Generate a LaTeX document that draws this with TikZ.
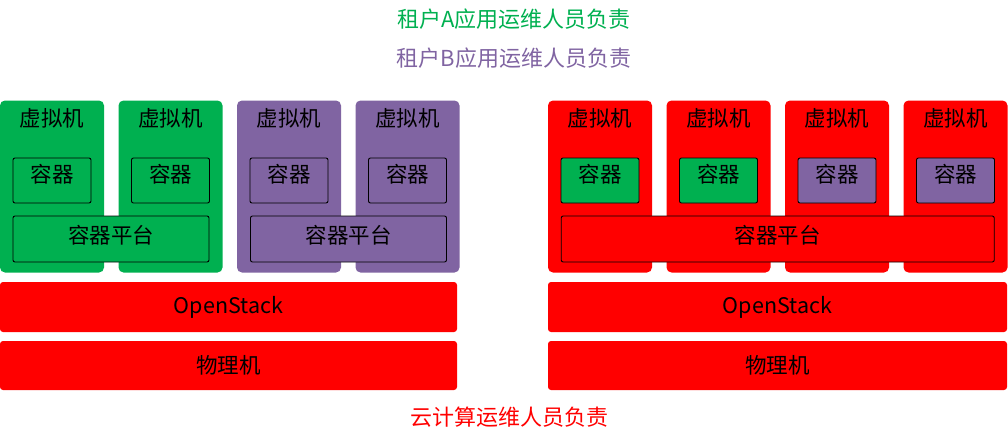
\documentclass[tikz,border=0pt]{standalone}
\usepackage{fontspec}
\setmainfont{Noto Sans CJK SC}
\usepackage{tikz}
\usetikzlibrary{positioning, calc}
\usepackage{xcolor}

\definecolor{tgreen}{HTML}{00B050}
\definecolor{tpurple}{HTML}{8064A2}
\definecolor{tred}{HTML}{FF0000}

\newcommand{\up}[2][14pt]{\raisebox{#1}{#2}}

\begin{document}
\begin{tikzpicture}[
        x=1pt, y=-1pt,
        font=\fontsize{21.5pt}{25pt}\selectfont,
        vm/.style={rectangle, draw=none, minimum width=104pt, minimum height=172pt, rounded corners=5pt, inner sep=0pt},
        ctr/.style={rectangle, draw=black, line width=0.9pt, minimum width=78pt, minimum height=45pt, rounded corners=2pt, inner sep=0pt},
        plat/.style={rectangle, draw=black, line width=0.9pt, minimum height=46pt, rounded corners=2pt, inner sep=0pt},
        layer/.style={rectangle, fill=tred, minimum height=49pt, rounded corners=3pt, inner sep=0pt},
        lbl/.style={inner sep=0pt}
    ]
        \useasboundingbox (0,0) rectangle (1008,447);

        % Verantwortung oben
        \node[lbl, text=tgreen, font=\fontsize{22pt}{26pt}\selectfont] (titleA) at (514, 19) {租户A应用运维人员负责};
        \node[lbl, text=tpurple, font=\fontsize{22pt}{26pt}\selectfont] (titleB) at (514, 58) {租户B应用运维人员负责};

        % Links: Virtuelle Maschinen
        \node[vm, fill=tgreen] (vmA) at (52, 186.5) {};
        \node[vm, fill=tgreen] (vmB) at (170.5, 186.5) {};
        \node[vm, fill=tpurple] (vmC) at (289, 186.5) {};
        \node[vm, fill=tpurple] (vmD) at (407.5, 186.5) {};

        \node[lbl] (vmAl) at (52, 118) {虚拟机};
        \node[lbl] (vmBl) at (170.5, 118) {虚拟机};
        \node[lbl] (vmCl) at (289, 118) {虚拟机};
        \node[lbl] (vmDl) at (407.5, 118) {虚拟机};

        % Links: Container
        \node[ctr, fill=tgreen] (ctrA) at (52, 180.5) {\up{容器}};
        \node[ctr, fill=tgreen] (ctrB) at (170.5, 180.5) {\up{容器}};
        \node[ctr, fill=tpurple] (ctrC) at (289, 180.5) {\up{容器}};
        \node[ctr, fill=tpurple] (ctrD) at (407.5, 180.5) {\up{容器}};

        \node[plat, fill=tgreen, minimum width=196pt] (platA) at (111, 239) {\up[10pt]{容器平台}};
        \node[plat, fill=tpurple, minimum width=196pt] (platB) at (348.5, 239) {\up[10pt]{容器平台}};

        % Links: Infrastruktur
        \node[layer, minimum width=457pt, minimum height=50pt] (osL) at (228.5, 307) {OpenStack};
        \node[layer, minimum width=457pt] (pmL) at (228.5, 365.5) {物理机};

        % Rechts: Virtuelle Maschinen
        \node[vm, fill=tred] (vmE) at (600, 186.5) {};
        \node[vm, fill=tred] (vmF) at (718.5, 186.5) {};
        \node[vm, fill=tred] (vmG) at (837, 186.5) {};
        \node[vm, fill=tred] (vmH) at (955.5, 186.5) {};

        \node[lbl] (vmEl) at (600, 118) {虚拟机};
        \node[lbl] (vmFl) at (718.5, 118) {虚拟机};
        \node[lbl] (vmGl) at (837, 118) {虚拟机};
        \node[lbl] (vmHl) at (955.5, 118) {虚拟机};

        % Rechts: Container
        \node[ctr, fill=tgreen] (ctrE) at (600, 180.5) {\up{容器}};
        \node[ctr, fill=tgreen] (ctrF) at (718.5, 180.5) {\up{容器}};
        \node[ctr, fill=tpurple] (ctrG) at (837, 180.5) {\up{容器}};
        \node[ctr, fill=tpurple] (ctrH) at (955.5, 180.5) {\up{容器}};

        \node[plat, fill=tred, minimum width=433pt] (platC) at (777.75, 239) {\up[10pt]{容器平台}};

        % Rechts: Infrastruktur
        \node[layer, minimum width=459pt, minimum height=50pt] (osR) at (777.5, 307) {OpenStack};
        \node[layer, minimum width=459pt] (pmR) at (777.5, 365.5) {物理机};

        % Verantwortung unten
        \node[lbl, text=tred, font=\fontsize{22pt}{26pt}\selectfont] (titleC) at (509, 417) {云计算运维人员负责};

    \end{tikzpicture}
\end{document}
